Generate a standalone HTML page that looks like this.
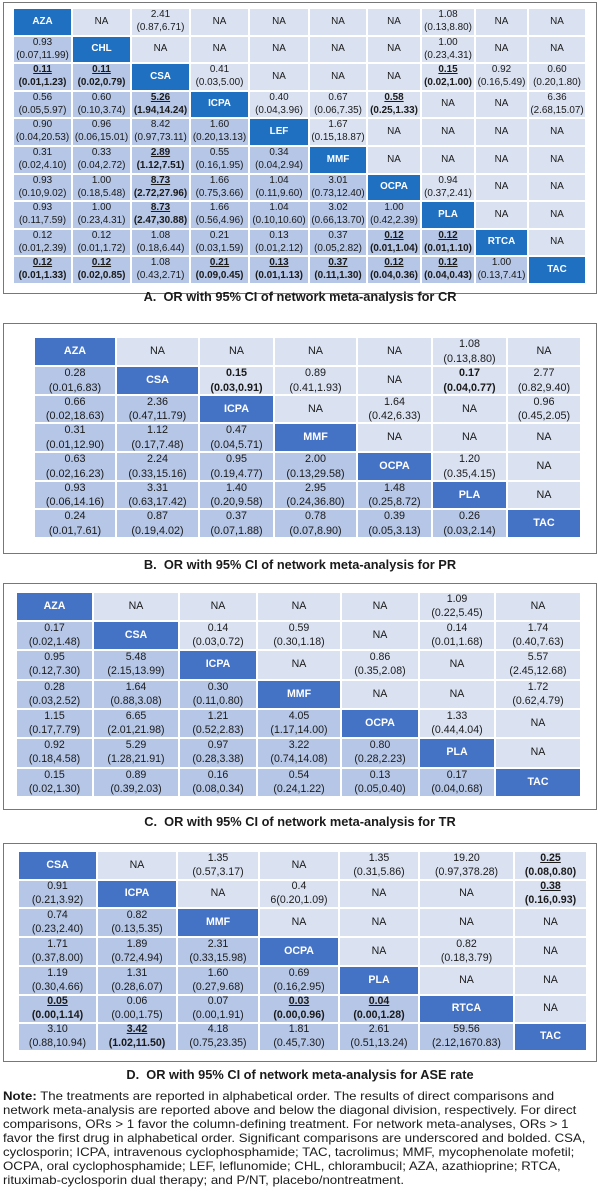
<!DOCTYPE html>
<html><head><meta charset="utf-8">
<style>
body{margin:0;background:#fff;width:600px;height:1187px;position:relative;overflow:hidden;font-family:"Liberation Sans",sans-serif;color:#1a1a1a}
.frame{position:absolute;border:1px solid #777;box-sizing:border-box}
.cell{position:absolute;display:flex;flex-direction:column;align-items:center;justify-content:center;text-align:center;line-height:1.3;white-space:nowrap;box-sizing:border-box;color:#1a1a1a}
.title{position:absolute;left:0;width:600px;text-align:center;font-weight:bold;font-size:12.8px;color:#1a1a1a}
.note{position:absolute;left:3px;top:1089px;font-size:11.8px;line-height:14px;color:#1a1a1a;white-space:nowrap;transform:scaleX(1.12);transform-origin:0 0}
</style></head><body>
<div class="frame" style="left:3px;top:2px;width:594px;height:292px"></div>
<div class="frame" style="left:3px;top:323px;width:594px;height:231px"></div>
<div class="frame" style="left:3px;top:583px;width:594px;height:227px"></div>
<div class="frame" style="left:3px;top:843px;width:594px;height:219px"></div>
<div id="tA"></div>
<div id="tB"></div>
<div id="tC"></div>
<div id="tD"></div>
<div class="title" style="top:289px">A.&nbsp; OR with 95% CI of network meta-analysis for CR</div>
<div class="title" style="top:557px">B.&nbsp; OR with 95% CI of network meta-analysis for PR</div>
<div class="title" style="top:814px">C.&nbsp; OR with 95% CI of network meta-analysis for TR</div>
<div class="title" style="top:1067px">D.&nbsp; OR with 95% CI of network meta-analysis for ASE rate</div>
<div class="note"><b>Note:</b> The treatments are reported in alphabetical order. The results of direct comparisons and<br>network meta-analysis are reported above and below the diagonal division, respectively. For direct<br>comparisons, ORs &gt; 1 favor the column-defining treatment. For network meta-analyses, ORs &gt; 1<br>favor the first drug in alphabetical order. Significant comparisons are underscored and bolded. CSA,<br>cyclosporin; ICPA, intravenous cyclophosphamide; TAC, tacrolimus; MMF, mycophenolate mofetil;<br>OCPA, oral cyclophosphamide; LEF, leflunomide; CHL, chlorambucil; AZA, azathioprine; RTCA,<br>rituximab-cyclosporin dual therapy; and P/NT, placebo/nontreatment.</div>
<script>
// * = bold+underline, ! = bold only
const labelsA=["AZA","CHL","CSA","ICPA","LEF","MMF","OCPA","PLA","RTCA","TAC"];
const cellsA=[
["AZA","NA","2.41|(0.87,6.71)","NA","NA","NA","NA","1.08|(0.13,8.80)","NA","NA"],
["0.93|(0.07,11.99)","CHL","NA","NA","NA","NA","NA","1.00|(0.23,4.31)","NA","NA"],
["*0.11|(0.01,1.23)","*0.11|(0.02,0.79)","CSA","0.41|(0.03,5.00)","NA","NA","NA","*0.15|(0.02,1.00)","0.92|(0.16,5.49)","0.60|(0.20,1.80)"],
["0.56|(0.05,5.97)","0.60|(0.10,3.74)","*5.26|(1.94,14.24)","ICPA","0.40|(0.04,3.96)","0.67|(0.06,7.35)","*0.58|(0.25,1.33)","NA","NA","6.36|(2.68,15.07)"],
["0.90|(0.04,20.53)","0.96|(0.06,15.01)","8.42|(0.97,73.11)","1.60|(0.20,13.13)","LEF","1.67|(0.15,18.87)","NA","NA","NA","NA"],
["0.31|(0.02,4.10)","0.33|(0.04,2.72)","*2.89|(1.12,7.51)","0.55|(0.16,1.95)","0.34|(0.04,2.94)","MMF","NA","NA","NA","NA"],
["0.93|(0.10,9.02)","1.00|(0.18,5.48)","*8.73|(2.72,27.96)","1.66|(0.75,3.66)","1.04|(0.11,9.60)","3.01|(0.73,12.40)","OCPA","0.94|(0.37,2.41)","NA","NA"],
["0.93|(0.11,7.59)","1.00|(0.23,4.31)","*8.73|(2.47,30.88)","1.66|(0.56,4.96)","1.04|(0.10,10.60)","3.02|(0.66,13.70)","1.00|(0.42,2.39)","PLA","NA","NA"],
["0.12|(0.01,2.39)","0.12|(0.01,1.72)","1.08|(0.18,6.44)","0.21|(0.03,1.59)","0.13|(0.01,2.12)","0.37|(0.05,2.82)","*0.12|(0.01,1.04)","*0.12|(0.01,1.10)","RTCA","NA"],
["*0.12|(0.01,1.33)","*0.12|(0.02,0.85)","1.08|(0.43,2.71)","*0.21|(0.09,0.45)","*0.13|(0.01,1.13)","*0.37|(0.11,1.30)","*0.12|(0.04,0.36)","*0.12|(0.04,0.43)","1.00|(0.13,7.41)","TAC"]];
const labelsB=["AZA","CSA","ICPA","MMF","OCPA","PLA","TAC"];
const cellsB=[
["AZA","NA","NA","NA","NA","1.08|(0.13,8.80)","NA"],
["0.28|(0.01,6.83)","CSA","!0.15|(0.03,0.91)","0.89|(0.41,1.93)","NA","!0.17|(0.04,0.77)","2.77|(0.82,9.40)"],
["0.66|(0.02,18.63)","2.36|(0.47,11.79)","ICPA","NA","1.64|(0.42,6.33)","NA","0.96|(0.45,2.05)"],
["0.31|(0.01,12.90)","1.12|(0.17,7.48)","0.47|(0.04,5.71)","MMF","NA","NA","NA"],
["0.63|(0.02,16.23)","2.24|(0.33,15.16)","0.95|(0.19,4.77)","2.00|(0.13,29.58)","OCPA","1.20|(0.35,4.15)","NA"],
["0.93|(0.06,14.16)","3.31|(0.63,17.42)","1.40|(0.20,9.58)","2.95|(0.24,36.80)","1.48|(0.25,8.72)","PLA","NA"],
["0.24|(0.01,7.61)","0.87|(0.19,4.02)","0.37|(0.07,1.88)","0.78|(0.07,8.90)","0.39|(0.05,3.13)","0.26|(0.03,2.14)","TAC"]];
const labelsC=["AZA","CSA","ICPA","MMF","OCPA","PLA","TAC"];
const cellsC=[
["AZA","NA","NA","NA","NA","1.09|(0.22,5.45)","NA"],
["0.17|(0.02,1.48)","CSA","0.14|(0.03,0.72)","0.59|(0.30,1.18)","NA","0.14|(0.01,1.68)","1.74|(0.40,7.63)"],
["0.95|(0.12,7.30)","5.48|(2.15,13.99)","ICPA","NA","0.86|(0.35,2.08)","NA","5.57|(2.45,12.68)"],
["0.28|(0.03,2.52)","1.64|(0.88,3.08)","0.30|(0.11,0.80)","MMF","NA","NA","1.72|(0.62,4.79)"],
["1.15|(0.17,7.79)","6.65|(2.01,21.98)","1.21|(0.52,2.83)","4.05|(1.17,14.00)","OCPA","1.33|(0.44,4.04)","NA"],
["0.92|(0.18,4.58)","5.29|(1.28,21.91)","0.97|(0.28,3.38)","3.22|(0.74,14.08)","0.80|(0.28,2.23)","PLA","NA"],
["0.15|(0.02,1.30)","0.89|(0.39,2.03)","0.16|(0.08,0.34)","0.54|(0.24,1.22)","0.13|(0.05,0.40)","0.17|(0.04,0.68)","TAC"]];
const labelsD=["CSA","ICPA","MMF","OCPA","PLA","RTCA","TAC"];
const cellsD=[
["CSA","NA","1.35|(0.57,3.17)","NA","1.35|(0.31,5.86)","19.20|(0.97,378.28)","*0.25|(0.08,0.80)"],
["0.91|(0.21,3.92)","ICPA","NA","0.4|6(0.20,1.09)","NA","NA","*0.38|(0.16,0.93)"],
["0.74|(0.23,2.40)","0.82|(0.13,5.35)","MMF","NA","NA","NA","NA"],
["1.71|(0.37,8.00)","1.89|(0.72,4.94)","2.31|(0.33,15.98)","OCPA","NA","0.82|(0.18,3.79)","NA"],
["1.19|(0.30,4.66)","1.31|(0.28,6.07)","1.60|(0.27,9.68)","0.69|(0.16,2.95)","PLA","NA","NA"],
["*0.05|(0.00,1.14)","0.06|(0.00,1.75)","0.07|(0.00,1.91)","*0.03|(0.00,0.96)","*0.04|(0.00,1.28)","RTCA","NA"],
["3.10|(0.88,10.94)","*3.42|(1.02,11.50)","4.18|(0.75,23.35)","1.81|(0.45,7.30)","2.61|(0.51,13.24)","59.56|(2.12,1670.83)","TAC"]];

// layout (pixel grid lines)
const layout={
 A:{x:[14,73,132,191,250,310,368,422,476,529,587],y:[9,37,64,92,119,147,175,202,230,257,285],fs:9.9,diag:"#1f70c1",up:"#dae2f2",lo:"#b5c6e6"},
 B:{x:[35,117,200,275,358,433,508,582],y:[338,367,396,424,453,482,510,539],fs:10.8,diag:"#4472c4",up:"#dae2f2",lo:"#b5c6e6"},
 C:{x:[17,94,180,258,342,420,496,582],y:[593,622,651,681,710,739,769,798],fs:10.6,diag:"#4472c4",up:"#dae2f2",lo:"#b5c6e6"},
 D:{x:[19,98,178,260,340,420,515,588],y:[852,881,909,938,967,996,1024,1052],fs:10.6,diag:"#4472c4",up:"#dae2f2",lo:"#b5c6e6"}
};
function build(id,key,labels,cells){
 const L=layout[key],host=document.getElementById(id);
 cells.forEach((row,r)=>row.forEach((txt,c)=>{
  const d=document.createElement('div');
  d.className='cell';
  
  
  d.style.left=L.x[c]+'px';d.style.top=L.y[r]+'px';
  d.style.width=(L.x[c+1]-L.x[c]-2)+'px';d.style.height=(L.y[r+1]-L.y[r]-2)+'px';
  d.style.fontSize=L.fs+'px';
  if(r===c){d.style.background=L.diag;d.style.color='#fff';d.style.fontWeight='bold';d.textContent=txt;}
  else{
   d.style.background=c>r?L.up:L.lo;
   let t=txt,b=false,u=false;
   if(t[0]==='*'){b=u=true;t=t.slice(1);} else if(t[0]==='!'){b=true;t=t.slice(1);}
   const parts=t.split('|');
   parts.forEach((p,i)=>{const s=document.createElement('span');s.textContent=p;
    if(b)s.style.fontWeight='bold'; if(u&&i===0)s.style.textDecoration='underline'; d.appendChild(s);});
  }
  host.appendChild(d);
 }));
}
build('tA','A',labelsA,cellsA);
build('tB','B',labelsB,cellsB);
build('tC','C',labelsC,cellsC);
build('tD','D',labelsD,cellsD);
</script>
</body></html>
